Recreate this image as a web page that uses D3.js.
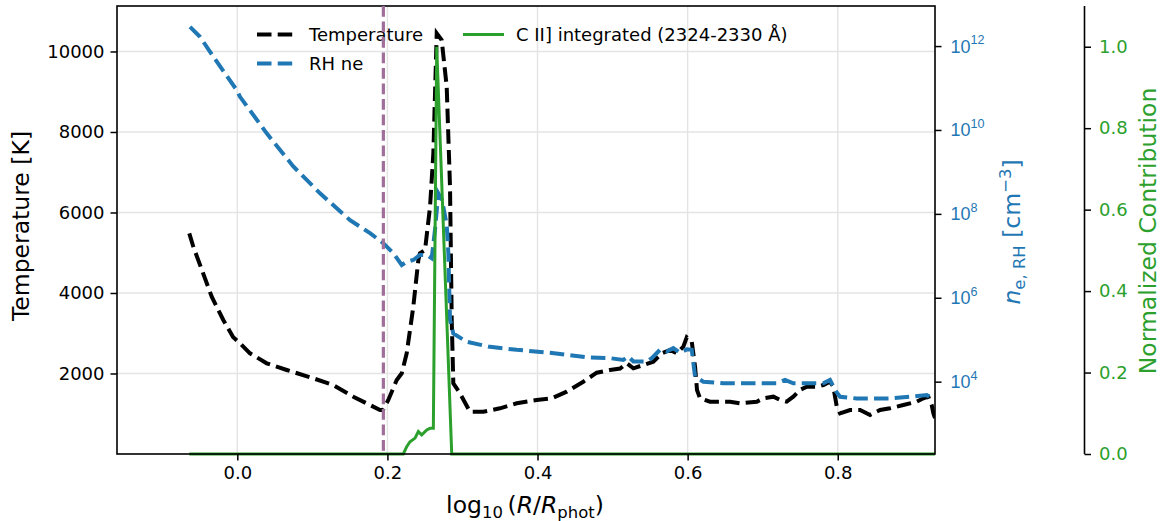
<!DOCTYPE html>
<html><head><meta charset="utf-8">
<script src="https://cdn.jsdelivr.net/npm/d3@7"></script>
<style>
html,body{margin:0;padding:0;background:#fff;}
svg{display:block;font-family:"DejaVu Sans",sans-serif;}
</style></head>
<body><svg id="c" width="1166" height="521"></svg>
<script>
// ---------------- data ----------------
const tempR = [-0.0640,-0.0586,-0.0341,-0.0187,-0.0057,0.0036,0.0169,0.0392,0.0658,0.1013,0.1279,0.1546,0.1768,0.1901,0.1940,0.2012,0.2124,0.2191,0.2257,0.2345,0.2412,0.2434,0.2501,0.2568,0.2612,0.2657,0.2723,0.2790,0.2834,0.2857,0.2878,0.2967,0.3100,0.3278,0.3500,0.3723,0.3989,0.4189,0.4389,0.4610,0.4789,0.4966,0.5100,0.5189,0.5277,0.5410,0.5543,0.5655,0.5765,0.5855,0.5943,0.5988,0.6055,0.6099,0.6125,0.6165,0.6298,0.6565,0.6698,0.6921,0.7009,0.7142,0.7231,0.7320,0.7408,0.7497,0.7587,0.7720,0.7808,0.7897,0.7941,0.7987,0.8031,0.8164,0.8298,0.8431,0.8564,0.8697,0.8874,0.9053,0.9141,0.9207,0.9252,0.9274,0.9296];
const tempK = [5483,5150,3908,3329,2907,2750,2502,2253,2087,1880,1714,1424,1217,1093,1093,1342,1838,2005,2502,3660,4820,4986,5068,6144,7470,10452,10285,9125,6641,3329,1757,1508,1051,1051,1135,1260,1342,1384,1548,1796,2020,2087,2124,2253,2129,2211,2293,2502,2584,2502,2666,2899,2790,2169,1590,1384,1300,1300,1260,1300,1384,1424,1342,1300,1424,1590,1672,1672,1714,1796,1672,1176,1011,1093,1093,969,1093,1135,1217,1300,1384,1424,1217,1011,894];

const neR = [-0.0630,-0.0497,-0.0320,-0.0008,0.0036,0.0392,0.0746,0.1102,0.1502,0.1768,0.1945,0.2079,0.2191,0.2257,0.2345,0.2434,0.2524,0.2590,0.2634,0.2678,0.2728,0.2790,0.2812,0.2834,0.2878,0.3057,0.3367,0.3723,0.4166,0.4656,0.4966,0.5143,0.5210,0.5277,0.5455,0.5522,0.5632,0.5722,0.5809,0.5899,0.5988,0.6055,0.6099,0.6209,0.6476,0.6921,0.7187,0.7298,0.7408,0.7808,0.7897,0.7964,0.8031,0.8253,0.8697,0.8964,0.9186,0.9253,0.9296];
const neVal = [2.88e12,1.66e12,5.62e11,8.91e10,6.17e10,8.32e9,1.35e9,3.09e8,7.08e7,3.47e7,2.0e7,1.15e7,6.03e6,7.24e6,7.94e6,1.05e7,1.05e7,8.71e6,4.17e7,3.09e8,2.14e8,5.5e7,1.15e7,2.95e5,1.41e5,8.91e4,6.76e4,5.75e4,4.9e4,3.8e4,3.63e4,3.31e4,3.98e4,3.02e4,3.02e4,3.63e4,5.75e4,5.25e4,6.31e4,4.9e4,5.89e4,5.75e4,1.32e4,1.0e4,9.12e3,9.12e3,9.12e3,1.1e4,9.12e3,9.12e3,1.1e4,6.31e3,4.37e3,3.98e3,3.98e3,4.37e3,4.79e3,3.98e3,3.89e3];

const contribR = [-0.0640,0.2212,0.2257,0.2301,0.2368,0.2412,0.2457,0.2524,0.2568,0.2612,0.2657,0.2857,0.9296];
const contribVal = [0,0,0.018,0.030,0.039,0.055,0.047,0.059,0.063,0.063,1.0,0,0];

const markerR = 0.1946;

const xTicks = [0.0,0.2,0.4,0.6,0.8];
const tTicks = [2000,4000,6000,8000,10000];
const neTickExp = [4,6,8,10,12];
const cTicks = [0.0,0.2,0.4,0.6,0.8,1.0];

// ---------------- layout ----------------
const L = 117, R = 935, T = 6, B = 454, AX3 = 1084.5;
const FS = 18, LFS = 23.5;
const svg = d3.select("#c");

const x = d3.scaleLinear().domain([-0.1603, 0.9296]).range([L, R]);
const yT = d3.scaleLinear().domain([0, 11130]).range([B, T]);
const yN = d3.scaleLog().domain([Math.pow(10,2.276), Math.pow(10,12.955)]).range([B, T]);
const yC = d3.scaleLinear().domain([0, 1.1]).range([B, T]);

svg.append("defs").append("clipPath").attr("id","clip")
  .append("rect").attr("x",L).attr("y",T).attr("width",R-L).attr("height",B-T);

// grid
const grid = svg.append("g").attr("stroke","#e4e4e4").attr("stroke-width",1.4);
xTicks.forEach(v=>grid.append("line").attr("x1",x(v)).attr("x2",x(v)).attr("y1",T).attr("y2",B));
tTicks.forEach(v=>grid.append("line").attr("x1",L).attr("x2",R).attr("y1",yT(v)).attr("y2",yT(v)));

// lines
const plot = svg.append("g").attr("clip-path","url(#clip)");
const tData = tempR.map((r,i)=>[r,tempK[i]]);
const nData = neR.map((r,i)=>[r,neVal[i]]);
const cData = contribR.map((r,i)=>[r,contribVal[i]]);

plot.append("path").datum(tData)
  .attr("d",d3.line().x(d=>x(d[0])).y(d=>yT(d[1])))
  .attr("fill","none").attr("stroke","#000").attr("stroke-width",4)
  .attr("stroke-dasharray","14.5,6.2");
plot.append("path").datum(nData)
  .attr("d",d3.line().x(d=>x(d[0])).y(d=>yN(d[1])))
  .attr("fill","none").attr("stroke","#1f77b4").attr("stroke-width",4)
  .attr("stroke-dasharray","14.5,6.2");
svg.append("path").datum(cData)
  .attr("d",d3.line().x(d=>x(d[0])).y(d=>yC(d[1])))
  .attr("fill","none").attr("stroke","#2ca02c").attr("stroke-width",3);

// axes
const tickLen = 6.5;
const xAxis = svg.append("g").attr("transform",`translate(0,${B})`)
  .call(d3.axisBottom(x).tickValues(xTicks).tickFormat(d3.format(".1f")).tickSizeOuter(0).tickSize(tickLen).tickPadding(6));
const yAxisL = svg.append("g").attr("transform",`translate(${L},0)`)
  .call(d3.axisLeft(yT).tickValues(tTicks).tickFormat(d=>String(d)).tickSizeOuter(0).tickSize(tickLen).tickPadding(6));
const yAxisN = svg.append("g").attr("transform",`translate(${R},0)`)
  .call(d3.axisRight(yN).tickValues(neTickExp.map(e=>Math.pow(10,e))).tickFormat("").tickSizeOuter(0).tickSize(tickLen));
const yAxisC = svg.append("g").attr("transform",`translate(${AX3},0)`)
  .call(d3.axisRight(yC).tickValues(cTicks).tickFormat(d3.format(".1f")).tickSizeOuter(0).tickSize(tickLen).tickPadding(8));

[xAxis,yAxisL,yAxisN,yAxisC].forEach(g=>{
  g.selectAll("text").attr("font-size",FS).attr("font-family","DejaVu Sans");
  g.selectAll(".tick line").attr("stroke","#000").attr("stroke-width",1.5);
  g.select(".domain").remove();
});
xAxis.selectAll("text").attr("fill","#000");
yAxisL.selectAll("text").attr("fill","#000");
yAxisC.selectAll("text").attr("fill","#2ca02c");

// log tick labels with superscripts
neTickExp.forEach(e=>{
  const t = yAxisN.append("text").attr("x",tickLen+9).attr("y",yN(Math.pow(10,e))+6.5)
    .attr("fill","#1f77b4").attr("font-size",FS);
  t.append("tspan").text("10");
  t.append("tspan").attr("font-size",FS*0.7).attr("dy",-8.5).text(String(e));
});

// spines
const sp = svg.append("g").attr("stroke","#000").attr("stroke-width",1.6).attr("fill","none");
sp.append("rect").attr("x",L).attr("y",T).attr("width",R-L).attr("height",B-T);
sp.append("line").attr("x1",AX3).attr("x2",AX3).attr("y1",T).attr("y2",B);

// legend
const lg = svg.append("g").attr("font-size",FS).attr("fill","#000");
function handle(x1,y,color,dash){
  const l = lg.append("line").attr("x1",x1).attr("x2",x1+38).attr("y1",y).attr("y2",y)
    .attr("stroke",color).attr("stroke-width",dash?4:3);
  if(dash) l.attr("stroke-dasharray","14.5,6.2");
}
handle(257,34.5,"#000",true);
lg.append("text").attr("x",309).attr("y",41).text("Temperature");
handle(257,63.5,"#1f77b4",true);
lg.append("text").attr("x",309).attr("y",70).text("RH ne");
lg.append("line").attr("x1",463).attr("x2",504).attr("y1",34.5).attr("y2",34.5).attr("stroke","#2ca02c").attr("stroke-width",3);
lg.append("text").attr("x",516).attr("y",41).text("C II] integrated (2324-2330 Å)");

// marker line
svg.append("line").attr("x1",x(markerR)).attr("x2",x(markerR)).attr("y1",T).attr("y2",B)
  .attr("stroke","#9f6e9a").attr("stroke-width",3.2).attr("stroke-dasharray","10.8,4.7");

// axis labels
const xl = svg.append("text").attr("x",525).attr("y",513).attr("text-anchor","middle").attr("font-size",LFS);
xl.append("tspan").text("log");
xl.append("tspan").attr("font-size",LFS*0.7).attr("dy",5).text("10");
xl.append("tspan").attr("dy",-5).text("\u2009(");
xl.append("tspan").attr("font-style","italic").text("R");
xl.append("tspan").text("/");
xl.append("tspan").attr("font-style","italic").text("R");
xl.append("tspan").attr("font-size",LFS*0.7).attr("dy",5).text("phot");
xl.append("tspan").attr("dy",-5).text(")");

svg.append("text").attr("transform","translate(29,226) rotate(-90)")
  .attr("text-anchor","middle").attr("font-size",LFS).text("Temperature [K]");

const nl = svg.append("text").attr("transform","translate(1020,232) rotate(-90)")
  .attr("text-anchor","middle").attr("font-size",LFS).attr("fill","#1f77b4");
nl.append("tspan").attr("font-style","italic").text("n");
nl.append("tspan").attr("font-size",LFS*0.7).attr("dy",5).text("e, RH");
nl.append("tspan").attr("dy",-5).text(" [cm");
nl.append("tspan").attr("font-size",LFS*0.7).attr("dy",-9).text("\u22123");
nl.append("tspan").attr("dy",9).text("]");

svg.append("text").attr("transform","translate(1156,231) rotate(-90)")
  .attr("text-anchor","middle").attr("font-size",LFS).attr("fill","#2ca02c").text("Normalized Contribution");
</script></body></html>
